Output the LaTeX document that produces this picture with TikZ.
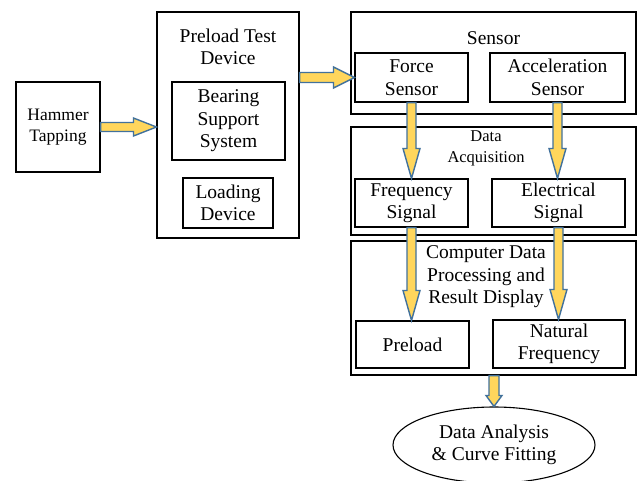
\documentclass[tikz,border=0pt]{standalone}
\usepackage{fontspec}
\setmainfont{Liberation Serif}
\usetikzlibrary{calc,shapes.geometric}
\definecolor{arrfill}{HTML}{FFD65C}
\definecolor{arrline}{HTML}{41719C}
\tikzset{
  box/.style={draw=black, line width=1.1pt, rectangle, inner sep=0pt, align=center,
    font=\fontsize{19.5}{22.5}\selectfont},
  lbl/.style={inner sep=0pt, align=center, font=\fontsize{19.5}{22.5}\selectfont},
  smalllbl/.style={inner sep=0pt, align=center, font=\fontsize{16.5}{21}\selectfont},
  fatarr/.style={draw=arrline, fill=arrfill, line width=1.4pt, line join=miter}
}
% vertical (downward) fat arrow: from, to, shaft half, head half, head length
\newcommand\fatdown[5]{%
  \draw[fatarr] let \p1=(#1), \p2=(#2) in
    (\x1-#3pt,\y1) -- (\x1-#3pt,\y2+#5pt) -- (\x1-#4pt,\y2+#5pt) -- (\x1,\y2)
    -- (\x1+#4pt,\y2+#5pt) -- (\x1+#3pt,\y2+#5pt) -- (\x1+#3pt,\y1) -- cycle;}
% horizontal (rightward) fat arrow
\newcommand\fatright[5]{%
  \draw[fatarr] let \p1=(#1), \p2=(#2) in
    (\x1,\y1-#3pt) -- (\x2-#5pt,\y1-#3pt) -- (\x2-#5pt,\y1-#4pt) -- (\x2,\y1)
    -- (\x2-#5pt,\y1+#4pt) -- (\x2-#5pt,\y1+#3pt) -- (\x1,\y1+#3pt) -- cycle;}
\begin{document}
\begin{tikzpicture}[x=1pt,y=-1pt]
\useasboundingbox[fill=white] (0,0) rectangle (637,480);

% Hammer
\node[box, minimum width=84pt, minimum height=90pt, font=\fontsize{17.5}{21}\selectfont] (ham) at (58,127) {Hammer\\Tapping};

% Preload test device
\node[box, minimum width=142pt, minimum height=226pt] (ptd) at (228,125) {};
\node[lbl] (ptdl) at (228,47) {Preload Test\\Device};
\node[box, minimum width=113pt, minimum height=78pt] (bss) at (228.5,121) {Bearing\\Support\\System};
\node[box, minimum width=90pt, minimum height=50pt] (ld) at (228,203) {Loading\\Device};

% Sensor
\node[box, minimum width=285pt, minimum height=102pt] (sen) at (493.5,63) {};
\node[lbl] (senl) at (493.5,38) {Sensor};
\node[box, minimum width=113pt, minimum height=49pt] (fs) at (411.5,77.5) {Force\\Sensor};
\node[box, minimum width=135pt, minimum height=49pt] (as) at (557.5,77.5) {Acceleration\\Sensor};

% Data acquisition
\node[box, minimum width=285pt, minimum height=108pt] (daq) at (493.5,181) {};
\node[smalllbl] (daql) at (486,148) {Data\\Acquisition};
\node[box, minimum width=113pt, minimum height=48pt] (fsig) at (411.5,203) {Frequency\\Signal};
\node[box, minimum width=133pt, minimum height=48pt] (esig) at (558.5,203) {Electrical\\Signal};

% Computer
\node[box, minimum width=285pt, minimum height=134pt] (comp) at (493.5,308) {};
\node[lbl] (compl) at (486,277) {Computer Data\\Processing and\\Result Display};
\node[box, minimum width=113pt, minimum height=47pt] (pre) at (412.5,344.5) {Preload};
\node[box, minimum width=132pt, minimum height=48pt] (nat) at (559,344) {Natural\\Frequency};

% Ellipse
\node[draw=black, line width=1.1pt, ellipse, minimum width=202pt, minimum height=76pt, inner sep=0pt, align=center, font=\fontsize{19.5}{22.5}\selectfont] (ell) at (494,445) {Data Analysis\\\& Curve Fitting};

% Arrows
\fatright{ham.east}{ptd.west}{4.5}{9}{23}
\fatright{ptd.east |- fs.west}{fs.west}{5}{10.5}{21}
\fatdown{fs.south}{fsig.north}{4.5}{8.5}{30}
\fatdown{as.south}{esig.north}{4.5}{8.5}{30}
\fatdown{fsig.south}{pre.north}{4.5}{8.5}{30}
\fatdown{esig.south}{nat.north}{4.5}{8.5}{30}
\fatdown{comp.south -| ell.north}{ell.north}{5}{8}{11}
\end{tikzpicture}
\end{document}
